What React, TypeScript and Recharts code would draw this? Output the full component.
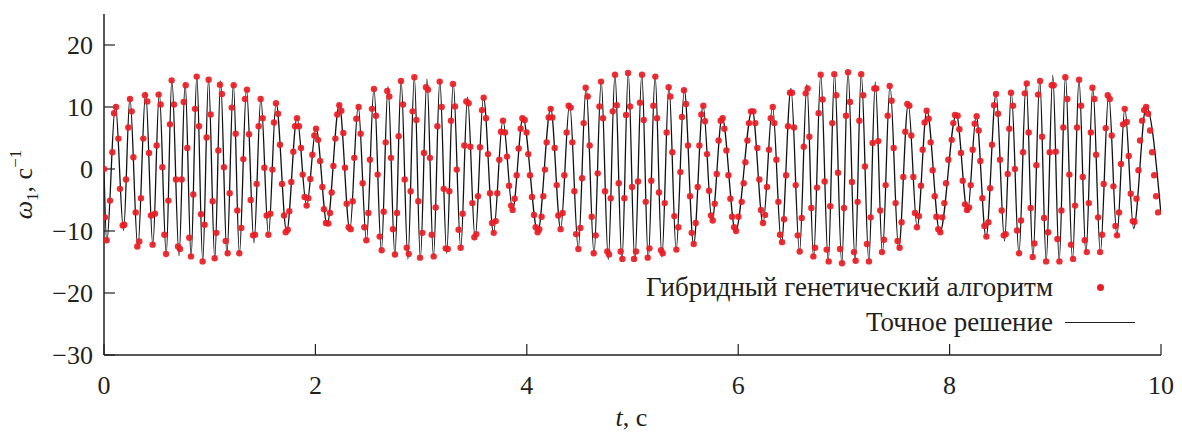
import { ComposedChart, Line, Scatter, XAxis, YAxis } from "recharts"

const xTicks = [0, 2, 4, 6, 8, 10]
const yTicks = [-30, -20, -10, 0, 10, 20]

// Точное решение: экстремумы кривой [t, ω]
const exact0to2 = [
  [0, 0], [0.026, -11.8], [0.108, 10.4], [0.185, -9.9], [0.245, 11.5], [0.32, -12.7], [0.394, 12.4],
  [0.462, -12.3], [0.523, 12.4], [0.589, -13.8], [0.642, 14.5], [0.71, -14.0], [0.768, 13.9],
  [0.824, -14.2], [0.878, 15.0], [0.934, -14.9], [0.989, 14.5], [1.048, -14.5], [1.103, 14.2],
  [1.163, -13.9], [1.224, 13.7], [1.281, -13.7], [1.348, 12.9], [1.419, -11.9], [1.484, 11.4],
  [1.556, -10.7], [1.628, 10.7], [1.728, -10.2], [1.826, 8.3], [1.917, -6.0], [2.006, 6.6],
]
const exact2to4 = [
  [2.111, -9.0], [2.226, 10.4], [2.326, -9.9], [2.405, 10.2], [2.483, -11.6], [2.554, 13.0],
  [2.624, -13.3], [2.687, 13.3], [2.752, -13.9], [2.811, 14.3], [2.875, -14.5], [2.936, 14.9],
  [2.993, -14.5], [3.055, 14.5], [3.117, -14.2], [3.177, 14.3], [3.242, -13.6], [3.304, 13.9],
  [3.375, -12.8], [3.439, 11.6], [3.511, -11.3], [3.59, 11.6], [3.685, -10.3], [3.774, 7.9],
  [3.866, -6.6], [3.963, 8.3],
]
const exact4to6 = [
  [4.104, -10.2], [4.226, 9.8], [4.32, -9.7], [4.405, 10.6], [4.487, -12.9], [4.561, 13.3],
  [4.636, -13.7], [4.704, 14.2], [4.771, -14.6], [4.834, 15.3], [4.9, -14.8], [4.96, 15.5],
  [5.022, -14.9], [5.088, 15.3], [5.149, -14.6], [5.214, 15.0], [5.278, -14.2], [5.345, 13.5],
  [5.413, -13.1], [5.49, 12.8], [5.578, -12.2], [5.668, 10.3], [5.752, -8.4], [5.848, 8.4],
  [5.975, -10.1],
]
const exact6to8 = [
  [6.133, 9.6], [6.235, -8.8], [6.325, 10.1], [6.408, -12.0], [6.499, 13.0], [6.58, -13.4],
  [6.65, 13.6], [6.713, -14.3], [6.781, 15.3], [6.852, -15.0], [6.911, 15.4], [6.98, -15.3],
  [7.039, 15.7], [7.106, -15.0], [7.164, 15.4], [7.236, -14.9], [7.297, 14.0], [7.364, -13.6],
  [7.436, 13.5], [7.518, -12.9], [7.609, 10.6], [7.693, -9.5], [7.785, 9.5], [7.908, -10.3],
]
const exact8to10 = [
  [8.063, 8.9], [8.17, -7.0], [8.252, 8.6], [8.345, -11.0], [8.44, 12.2], [8.52, -11.6],
  [8.584, 12.4], [8.656, -13.7], [8.724, 14.1], [8.789, -14.3], [8.853, 14.4], [8.914, -14.9],
  [8.976, 15.1], [9.037, -14.9], [9.096, 15.0], [9.163, -14.7], [9.224, 14.5], [9.29, -13.7],
  [9.355, 13.3], [9.426, -13.5], [9.505, 12.1], [9.583, -10.8], [9.658, 9.8], [9.741, -9.6],
  [9.86, 10.1], [10, -7.3],
]

// Гибридный генетический алгоритм: точки [t, ω]
const hga0to2 = [
  [0, 0], [0.009, -7.8], [0.025, -11.5], [0.057, -5.1], [0.079, 2.7], [0.095, 9.0], [0.114, 10.0],
  [0.136, 4.9], [0.151, -3.2], [0.177, -9.1], [0.192, -9.0], [0.208, -1.7], [0.23, 6.7], [0.246, 11.3],
  [0.262, 9.3], [0.278, 1.9], [0.3, -7.0], [0.315, -12.5], [0.334, -11.7], [0.35, -4.7], [0.372, 4.9],
  [0.388, 11.9], [0.41, 10.9], [0.426, 2.6], [0.445, -7.5], [0.46, -12.2], [0.482, -7.2], [0.498, 3.8],
  [0.517, 12.0], [0.536, 10.4], [0.552, 0.3], [0.571, -10.6], [0.587, -13.7], [0.609, -5.1],
  [0.624, 7.2], [0.64, 14.3], [0.662, 10.4], [0.681, -1.7], [0.7, -12.5], [0.719, -12.9],
  [0.735, -1.7], [0.754, 10.8], [0.773, 13.5], [0.788, 3.4], [0.807, -11.1], [0.823, -14.1],
  [0.845, -4.1], [0.861, 9.7], [0.877, 14.9], [0.899, 6.9], [0.918, -7.3], [0.933, -14.9],
  [0.952, -9.0], [0.971, 5.1], [0.99, 14.4], [1.009, 8.8], [1.028, -5.2], [1.047, -14.4],
  [1.063, -10.3], [1.082, 3.0], [1.097, 13.6], [1.116, 12.1], [1.135, 0.3], [1.151, -11.6],
  [1.17, -13.6], [1.189, -3.9], [1.208, 9.9], [1.227, 13.5], [1.246, 5.7], [1.261, -6.7],
  [1.28, -13.6], [1.299, -9.5], [1.318, 1.6], [1.334, 11.3], [1.353, 12.8], [1.372, 5.6],
  [1.388, -5.0], [1.41, -10.7], [1.429, -10.6], [1.444, -2.4], [1.463, 6.9], [1.482, 11.3],
  [1.501, 8.2], [1.517, 0.2], [1.539, -7.5], [1.555, -10.6], [1.574, -7.2], [1.593, -0.1],
  [1.608, 7.5], [1.627, 10.6], [1.646, 8.9], [1.665, 3.9], [1.684, -2.4], [1.703, -7.5],
  [1.719, -10.2], [1.738, -9.8], [1.753, -6.8], [1.772, -2.1], [1.791, 2.8], [1.807, 6.9],
  [1.826, 8.2], [1.845, 6.9], [1.864, 3.4], [1.88, -0.9], [1.898, -4.5], [1.917, -5.9],
  [1.933, -4.7], [1.952, -1.6], [1.971, 2.3], [1.99, 5.4], [2.006, 6.5],
]
const hga2to4 = [
  [2.025, 4.7], [2.044, 1.3], [2.066, -2.9], [2.081, -6.5], [2.1, -8.7], [2.122, -8.8], [2.138, -7.1],
  [2.154, -3.8], [2.17, 0.5], [2.189, 4.9], [2.207, 8.8], [2.226, 10.3], [2.245, 9.4], [2.264, 5.8],
  [2.28, 0.2], [2.296, -5.6], [2.315, -9.4], [2.334, -9.7], [2.353, -5.2], [2.368, 1.8], [2.387, 8.1],
  [2.409, 10.0], [2.428, 5.7], [2.447, -2.3], [2.463, -9.4], [2.482, -11.5], [2.501, -7.1],
  [2.516, 1.5], [2.535, 9.7], [2.554, 12.9], [2.573, 8.6], [2.589, -0.9], [2.608, -10.9],
  [2.627, -13.1], [2.646, -6.9], [2.665, 4.3], [2.68, 12.6], [2.699, 11.7], [2.715, 1.8],
  [2.734, -9.7], [2.753, -13.8], [2.772, -7.1], [2.788, 5.3], [2.81, 14.2], [2.829, 10.4],
  [2.845, -1.7], [2.864, -12.7], [2.883, -13.7], [2.901, -3.6], [2.92, 9.3], [2.936, 14.8],
  [2.955, 7.9], [2.974, -5.2], [2.99, -14.3], [3.012, -10.3], [3.027, 2.6], [3.046, 13.2],
  [3.065, 12.8], [3.084, 1.8], [3.1, -10.6], [3.119, -14.1], [3.138, -6.2], [3.154, 6.9],
  [3.176, 14.1], [3.195, 10.0], [3.214, -3.2], [3.233, -12.8], [3.252, -12.9], [3.267, -3.6],
  [3.283, 7.8], [3.302, 13.7], [3.321, 10.1], [3.337, -0.1], [3.355, -9.8], [3.374, -12.7],
  [3.393, -7.2], [3.409, 3.8], [3.428, 10.9], [3.45, 10.6], [3.466, 3.6], [3.485, -5.5],
  [3.504, -11.0], [3.523, -10.5], [3.538, -4.4], [3.557, 3.5], [3.576, 9.5], [3.592, 11.5],
  [3.614, 8.2], [3.633, 2.4], [3.652, -3.9], [3.671, -8.7], [3.687, -10.3], [3.706, -8.4],
  [3.721, -3.9], [3.74, 1.5], [3.756, 6.0], [3.775, 7.8], [3.794, 5.9], [3.813, 2.0], [3.832, -2.7],
  [3.851, -5.9], [3.866, -6.6], [3.885, -4.8], [3.904, -1.0], [3.923, 3.3], [3.942, 6.5],
  [3.958, 8.2], [3.98, 7.9], [3.998, 5.9],
]
const hga4to6 = [
  [4.014, 2.4], [4.03, -1.0], [4.049, -4.5], [4.068, -7.4], [4.084, -9.4], [4.103, -10.2],
  [4.118, -9.7], [4.14, -7.7], [4.156, -4.4], [4.172, -0.1], [4.188, 4.3], [4.207, 8.3], [4.226, 9.7],
  [4.242, 8.3], [4.264, 3.4], [4.283, -2.6], [4.298, -7.5], [4.32, -9.7], [4.339, -7.1], [4.355, -1.0],
  [4.377, 5.9], [4.396, 10.2], [4.415, 9.9], [4.431, 4.3], [4.45, -3.6], [4.466, -10.5],
  [4.488, -12.9], [4.507, -9.5], [4.523, -1.5], [4.538, 7.4], [4.557, 13.1], [4.576, 11.7],
  [4.595, 3.8], [4.614, -7.7], [4.633, -13.6], [4.652, -10.7], [4.671, -0.7], [4.687, 10.1],
  [4.702, 14.1], [4.721, 8.2], [4.74, -3.6], [4.762, -13.3], [4.778, -13.8], [4.794, -4.7],
  [4.813, 9.3], [4.835, 15.2], [4.851, 10.3], [4.87, -2.3], [4.888, -13.3], [4.904, -14.5],
  [4.923, -4.7], [4.939, 8.7], [4.958, 15.5], [4.977, 10.1], [4.996, -2.9], [5.014, -14.5],
  [5.033, -13.3], [5.052, -2.0], [5.071, 10.7], [5.09, 15.2], [5.106, 7.9], [5.125, -5.3],
  [5.144, -14.3], [5.16, -12.8], [5.178, -1.9], [5.197, 10.2], [5.216, 14.9], [5.232, 8.2],
  [5.251, -3.8], [5.27, -13.1], [5.286, -13.6], [5.305, -5.5], [5.323, 5.9], [5.342, 13.2],
  [5.358, 11.7], [5.377, 2.7], [5.396, -7.6], [5.415, -13.0], [5.434, -9.4], [5.453, -0.5],
  [5.468, 8.4], [5.487, 12.7], [5.506, 10.5], [5.525, 3.8], [5.544, -4.4], [5.56, -10.3],
  [5.579, -12.1], [5.598, -8.7], [5.617, -2.9], [5.633, 3.8], [5.651, 8.8], [5.67, 10.2],
  [5.686, 7.7], [5.705, 2.4], [5.724, -3.5], [5.743, -7.5], [5.759, -8.3], [5.778, -5.6],
  [5.797, -0.8], [5.815, 4.6], [5.834, 7.8], [5.853, 8.2], [5.869, 6.5], [5.888, 3.0],
  [5.907, -1.0], [5.926, -4.8], [5.942, -7.7], [5.961, -9.4], [5.98, -10.0], [6.002, -7.7],
]
const hga6to8 = [
  [6.033, -5.3], [6.052, -2.3], [6.068, 1.1], [6.087, 4.6], [6.102, 7.4], [6.121, 9.3], [6.144, 9.3],
  [6.162, 7.4], [6.181, 3.4], [6.2, -1.7], [6.216, -6.6], [6.235, -8.7], [6.254, -7.4], [6.273, -2.9],
  [6.292, 3.1], [6.308, 8.2], [6.327, 10.0], [6.342, 7.4], [6.361, 1.5], [6.38, -5.3], [6.396, -10.6],
  [6.415, -11.8], [6.434, -8.1], [6.453, -1.0], [6.471, 6.9], [6.49, 12.3], [6.509, 12.3],
  [6.528, 6.7], [6.544, -2.6], [6.563, -10.7], [6.582, -13.3], [6.601, -7.9], [6.62, 3.6],
  [6.638, 12.2], [6.657, 13.0], [6.673, 5.2], [6.692, -6.3], [6.711, -14.1], [6.727, -12.7],
  [6.746, -3.0], [6.761, 9.0], [6.78, 15.2], [6.799, 11.2], [6.818, -2.0], [6.837, -13.0],
  [6.856, -14.9], [6.871, -6.0], [6.89, 7.4], [6.909, 15.3], [6.928, 11.9], [6.944, -0.6],
  [6.963, -12.9], [6.982, -15.2], [7.001, -6.3], [7.02, 8.6], [7.039, 15.6], [7.058, 10.8],
  [7.076, -2.1], [7.095, -13.4], [7.111, -14.8], [7.13, -5.3], [7.146, 7.8], [7.164, 15.3],
  [7.183, 11.9], [7.199, 0.4], [7.218, -12.1], [7.237, -14.9], [7.253, -7.8], [7.272, 4.2],
  [7.288, 13.0], [7.306, 13.0], [7.325, 4.5], [7.344, -6.7], [7.36, -13.4], [7.379, -11.4],
  [7.395, -2.6], [7.414, 8.6], [7.433, 13.4], [7.452, 11.0], [7.471, 3.4], [7.489, -5.5],
  [7.508, -11.6], [7.527, -12.7], [7.546, -8.6], [7.562, -1.3], [7.581, 6.0], [7.6, 10.5],
  [7.619, 10.2], [7.638, 5.4], [7.657, -1.3], [7.672, -7.1], [7.691, -9.4], [7.71, -7.6],
  [7.729, -2.7], [7.745, 3.1], [7.764, 7.5], [7.783, 9.4], [7.802, 8.1], [7.821, 4.3], [7.84, -0.2],
  [7.859, -4.4], [7.875, -7.7], [7.893, -9.7], [7.912, -10.2], [7.931, -7.8], [7.95, -5.5],
  [7.966, -2.3], [7.988, 1.5],
]
const hga8to10 = [
  [8.02, 4.7], [8.035, 7.4], [8.051, 8.7], [8.076, 8.6], [8.092, 6.4], [8.108, 2.6], [8.124, -1.9],
  [8.146, -5.7], [8.165, -6.6], [8.184, -6.2], [8.2, -2.6], [8.218, 3.1], [8.237, 7.3], [8.256, 8.5],
  [8.275, 6.2], [8.291, 1.3], [8.31, -4.7], [8.329, -9.2], [8.348, -10.9], [8.367, -8.6], [8.383, -3.1],
  [8.401, 3.9], [8.42, 10.3], [8.439, 12.1], [8.458, 8.9], [8.477, 1.5], [8.493, -6.7], [8.512, -10.7],
  [8.531, -10.5], [8.55, -0.8], [8.565, 6.5], [8.581, 12.3], [8.6, 10.2], [8.619, 0], [8.638, -9.9],
  [8.657, -13.6], [8.676, -8.3], [8.695, 2.7], [8.711, 12.2], [8.73, 13.8], [8.748, 5.9],
  [8.767, -6.3], [8.786, -14.2], [8.802, -12.0], [8.821, 0.6], [8.837, 12.0], [8.856, 14.2],
  [8.875, 5.2], [8.894, -7.9], [8.913, -14.9], [8.932, -10.2], [8.947, 2.7], [8.966, 13.5],
  [8.985, 13.5], [9.004, 2.8], [9.02, -11.3], [9.039, -14.9], [9.058, -6.7], [9.076, 6.7],
  [9.095, 14.8], [9.114, 11.3], [9.133, -0.9], [9.149, -12.2], [9.168, -14.5], [9.187, -5.9],
  [9.206, 6.7], [9.225, 14.4], [9.244, 10.2], [9.26, -1.3], [9.279, -11.5], [9.298, -13.4],
  [9.317, -5.5], [9.336, 5.9], [9.351, 13.1], [9.37, 11.3], [9.386, 2.3], [9.405, -7.8],
  [9.424, -13.4], [9.443, -10.6], [9.458, -2.4], [9.477, 6.6], [9.496, 11.9], [9.515, 11.3],
  [9.534, 5.4], [9.55, -2.8], [9.569, -9.2], [9.584, -10.7], [9.603, -7.0], [9.622, 0.8],
  [9.641, 7.2], [9.657, 9.7], [9.676, 7.6], [9.695, 2.1], [9.714, -4.0], [9.733, -8.4],
  [9.749, -8.5], [9.768, -4.8], [9.787, -0.2], [9.802, 4.6], [9.821, 7.8], [9.84, 9.5],
  [9.859, 10.0], [9.878, 8.9], [9.897, 6.2], [9.916, 2.7], [9.935, -1.0], [9.954, -4.4],
  [9.973, -7.0],
]

const toRows = (pairs: number[][]) => pairs.map(([t, w]) => ({ t, w }))
const exactData = toRows([...exact0to2, ...exact2to4, ...exact4to6, ...exact6to8, ...exact8to10])
const hgaData = toRows([...hga0to2, ...hga2to4, ...hga4to6, ...hga6to8, ...hga8to10])

const FONT = "'Liberation Serif', 'Times New Roman', Times, serif"
const INK = "#231f20"
const RED = "#ec1c24"

const tickStyle = { fontFamily: FONT, fontSize: 26, fill: INK }
const frame = { stroke: INK, strokeWidth: 1.5 }
const tickLn = { stroke: INK, strokeWidth: 1.2 }
const minus = (v: number) => String(v).replace("-", "−")

function YTitle(props: any) {
  const vb = props.viewBox
  const x = 32
  const y = vb.y + vb.height / 2
  return (
    <text x={x} y={y} transform={`rotate(-90 ${x} ${y})`} textAnchor="middle"
      fontFamily={FONT} fontSize={26} fill={INK}>
      <tspan fontStyle="italic">ω</tspan>
      <tspan fontSize={17} dy={6}>1</tspan>
      <tspan dy={-6}>, с</tspan>
      <tspan fontSize={17} dy={-11}>−1</tspan>
    </text>
  )
}

function XTitle(props: any) {
  const vb = props.viewBox
  return (
    <text x={vb.x + vb.width / 2 - 1} y={vb.y + 71} textAnchor="middle"
      fontFamily={FONT} fontSize={26} fill={INK}>
      <tspan fontStyle="italic">t</tspan>, с
    </text>
  )
}

function RedDot(props: any) {
  return <circle cx={props.cx} cy={props.cy} r={3.2} fill={RED} fillOpacity={0.92} />
}

function LegendBox() {
  const row = { display: "flex", alignItems: "center", height: 35, lineHeight: "35px" } as const
  const label = { width: 453, textAlign: "right", whiteSpace: "nowrap" } as const
  const sample = { width: 94, display: "flex", justifyContent: "center", alignItems: "center" } as const
  return (
    <div style={{ position: "absolute", left: 600, top: 270, width: 547,
      fontFamily: FONT, fontSize: 27, color: INK }}>
      <div style={row}>
        <span style={label}>Гибридный генетический алгоритм</span>
        <span style={sample}>
          <span style={{ width: 7, height: 7, borderRadius: "50%", background: RED }} />
        </span>
      </div>
      <div style={row}>
        <span style={label}>Точное решение</span>
        <span style={sample}>
          <span style={{ width: 70, height: 1.4, background: INK }} />
        </span>
      </div>
    </div>
  )
}

export default function App() {
  return (
    <div style={{ position: "absolute", left: 0, top: 0, width: 1182, height: 432, background: "#fff" }}>
      <ComposedChart width={1182} height={432} margin={{ top: 14, right: 21, bottom: 0, left: 0 }}>
        <XAxis xAxisId="b" dataKey="t" type="number" domain={[0, 10]} ticks={xTicks} interval={0}
          height={77} tickSize={-11} tickMargin={32} axisLine={frame} tickLine={tickLn}
          tick={tickStyle} label={XTitle} allowDataOverflow />
        <XAxis xAxisId="top" dataKey="t" type="number" orientation="top" domain={[0, 10]} ticks={xTicks}
          interval={0} height={0} tickSize={11} mirror tick={false} axisLine={frame} tickLine={tickLn}
          allowDataOverflow />
        <YAxis yAxisId="l" type="number" domain={[-30, 25]} ticks={yTicks} interval={0} width={104}
          tickSize={-11} tickMargin={22} axisLine={frame} tickLine={tickLn} tick={tickStyle}
          tickFormatter={minus} label={YTitle} allowDataOverflow />
        <YAxis yAxisId="r" type="number" orientation="right" domain={[-30, 25]} ticks={yTicks} interval={0}
          width={0} tickSize={11} mirror tick={false} axisLine={frame} tickLine={tickLn} allowDataOverflow />
        <Line xAxisId="b" yAxisId="l" data={exactData} dataKey="w" type="monotone" stroke="#111"
          strokeWidth={1.3} dot={false} activeDot={false} isAnimationActive={false} />
        <Scatter xAxisId="b" yAxisId="l" data={hgaData} dataKey="w" shape={RedDot}
          isAnimationActive={false} />
      </ComposedChart>
      <LegendBox />
    </div>
  )
}
